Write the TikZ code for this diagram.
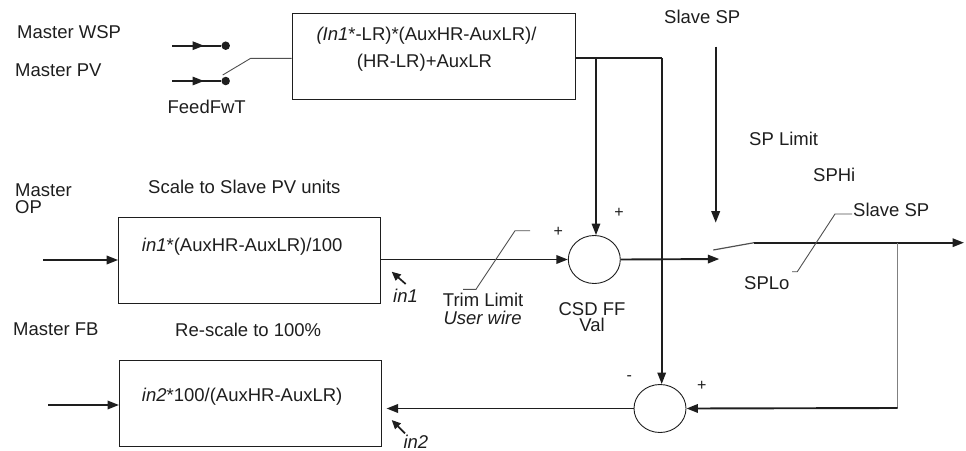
\documentclass[tikz,border=0pt]{standalone}
\usepackage{fontspec}
\setmainfont{Liberation Sans}
\usetikzlibrary{arrows.meta,shapes.geometric}
\definecolor{ink}{HTML}{1E1E1E}
\definecolor{fbgray}{HTML}{808080}
\definecolor{leadgray}{HTML}{505050}
\begin{document}
\begin{tikzpicture}[x=1pt,y=-1pt,
  font=\fontsize{18.5}{13}\selectfont,
  sig/.style={draw=ink, line width=1.9pt},
  med/.style={draw=ink, line width=1.6pt},
  arr/.style={-{Triangle[length=11.5pt,width=8.5pt]}},
  box/.style={draw=ink, line width=1pt, rectangle, inner sep=0},
  sumnode/.style={ellipse, draw=ink, line width=0.9pt, minimum width=52pt, minimum height=48pt, inner sep=0},
  lbl/.style={anchor=base west, inner sep=0, text=ink},
  clbl/.style={anchor=base, inner sep=0, text=ink},
  sign/.style={font=\fontsize{16}{16}\selectfont, inner sep=0, text=ink},
  leader/.style={draw=leadgray, line width=0.9pt},
  fb/.style={draw=fbgray, line width=1.4pt},
  dot/.style={circle, fill=ink, minimum size=8.5pt, inner sep=0},
  smallarr/.style={draw=ink, line width=1.7pt, -{Triangle[length=9pt,width=8pt]}}
]
\useasboundingbox (0,0) rectangle (966,450);

% ---------- boxes and summing junctions ----------
\node[box, minimum width=283pt, minimum height=86pt] (topbox) at (433.5,56) {};
\node[box, minimum width=262pt, minimum height=86pt] (midbox) at (249.6,260.5) {};
\node[box, minimum width=262pt, minimum height=86pt] (botbox) at (250.5,403.6) {};
\node[sumnode] (sum1) at (594.3,259.5) {};
\node[sumnode] (sum2) at (660,408.5) {};

% ---------- texts ----------
\node[lbl] (mwsp) at (17,38.5) {Master WSP};
\node[lbl] (mpv) at (15,76) {Master PV};
\node[clbl] (ffwt) at (206.7,113.3) {FeedFwT};
\node[clbl] (tb1) at (426.5,40) {\textit{(In1}*-LR)*(AuxHR-AuxLR)/};
\node[clbl] (tb2) at (424.5,67.5) {(HR-LR)+AuxLR};
\node[lbl] (slsp) at (664,23.3) {Slave SP};
\node[lbl] (splim) at (749,145) {SP Limit};
\node[lbl] (sphi) at (813,181.7) {SPHi};
\node[lbl] (slsp2) at (853,216.7) {Slave SP};
\node[lbl] (splo) at (744,289.3) {SPLo};
\node[lbl, align=left, font=\fontsize{18.5}{17}\selectfont] (mop) at (15,213.5) {Master\\OP};
\node[lbl] (scl) at (148,193.3) {Scale to Slave PV units};
\node[lbl] (mbt) at (141.7,251.7) {\textit{in1}*(AuxHR-AuxLR)/100};
\node[lbl] (in1t) at (393,302.7) {\textit{in1}};
\node[lbl] (trim) at (442.7,306) {Trim Limit};
\node[lbl] (uw) at (443.3,324.3) {\textit{User wire}};
\node[clbl] (csd) at (592,315) {CSD FF};
\node[clbl] (val) at (592,331.7) {Val};
\node[lbl] (mfb) at (13,335) {Master FB};
\node[lbl] (rsc) at (175,336) {Re-scale to 100\%};
\node[lbl] (bbt) at (141.7,401.7) {\textit{in2}*100/(AuxHR-AuxLR)};
\node[lbl] (in2t) at (403.3,448) {\textit{in2}};
\node[sign] (p1) at (558.3,231.7) {+};
\node[sign] (p2) at (619,213.3) {+};
\node[sign] (p3) at (701.7,385.7) {+};
\node[sign] (m1) at (629.3,378.3) {-};

% ---------- feed-forward selector ----------
\coordinate (wspin) at (172,45.7);
\coordinate (pvin) at (172,81);
\node[dot] (wspdot) at (225.7,45.7) {};
\node[dot] (pvdot) at (225.7,81) {};
\draw[med] (wspin) -- (wspdot);
\draw[med, arr] (wspin) -- (204,45.7);
\draw[med] (pvin) -- (pvdot);
\draw[med, arr] (pvin) -- (204,81);
\coordinate (lev1) at (222.7,75);
\coordinate (lev2) at (250.7,58.3);
\draw[leader] (lev1) -- (lev2) -- (lev2 -| topbox.west);

% ---------- from top box down to junctions ----------
\coordinate (tbo) at (topbox.east |- 0,58);
\coordinate (corner) at (661.7,58);
\coordinate (br) at (596,58);
\draw[med] (tbo) -- (corner);
\draw[med, arr] (br) -- (br |- sum1.north);
\draw[med, arr] (corner) -- (corner |- sum2.north);

% ---------- Slave SP input ----------
\coordinate (spin) at (715.7,46.7);
\draw[sig, arr] (spin) -- (715.7,222.7);

% ---------- middle path ----------
\coordinate (opin) at (43,260);
\draw[sig, arr] (opin) -- (opin -| midbox.west);
\draw[sig, arr] (midbox.east |- sum1.west) -- (sum1.west);
\coordinate (swin) at (719.3,259);
\draw[sig, arr] (sum1.east) -- (swin);
\coordinate (sw1) at (713.3,250);
\coordinate (sw2) at (754,242.7);
\coordinate (spout) at (964,242.7);
\draw[leader, line width=1.2pt] (sw1) -- (sw2);
\draw[sig, arr] (sw2) -- (spout);

% ---------- feedback path ----------
\coordinate (fbtop) at (897.7,242.7);
\coordinate (fbbot) at (897.7,408);
\draw[fb] (fbtop) -- (fbbot);
\draw[sig, arr] (fbbot) -- (sum2.east);
\draw[sig, arr, shorten >=4.5pt] (sum2.west) -- (sum2.west -| botbox.east);
\coordinate (fbin) at (48.3,405);
\draw[sig, arr] (fbin) -- (fbin -| botbox.west);

% ---------- pointer arrows ----------
\coordinate (a1s) at (405.7,284);
\coordinate (a1e) at (391.7,271.7);
\draw[smallarr] (a1s) -- (a1e);
\coordinate (a2s) at (405,433.3);
\coordinate (a2e) at (391.7,420);
\draw[smallarr] (a2s) -- (a2e);

% ---------- leaders ----------
\coordinate (tl1) at (463,289.3);
\coordinate (tl2) at (476,289.3);
\coordinate (tl3) at (515,230.7);
\coordinate (tl4) at (530,230.7);
\draw[leader] (tl1) -- (tl2) -- (tl3) -- (tl4);
\coordinate (sl1) at (852,214);
\coordinate (sl2) at (835,214);
\coordinate (sl3) at (797.3,271.7);
\coordinate (sl4) at (792,271.7);
\draw[leader] (sl1) -- (sl2) -- (sl3) -- (sl4);
\end{tikzpicture}
\end{document}
